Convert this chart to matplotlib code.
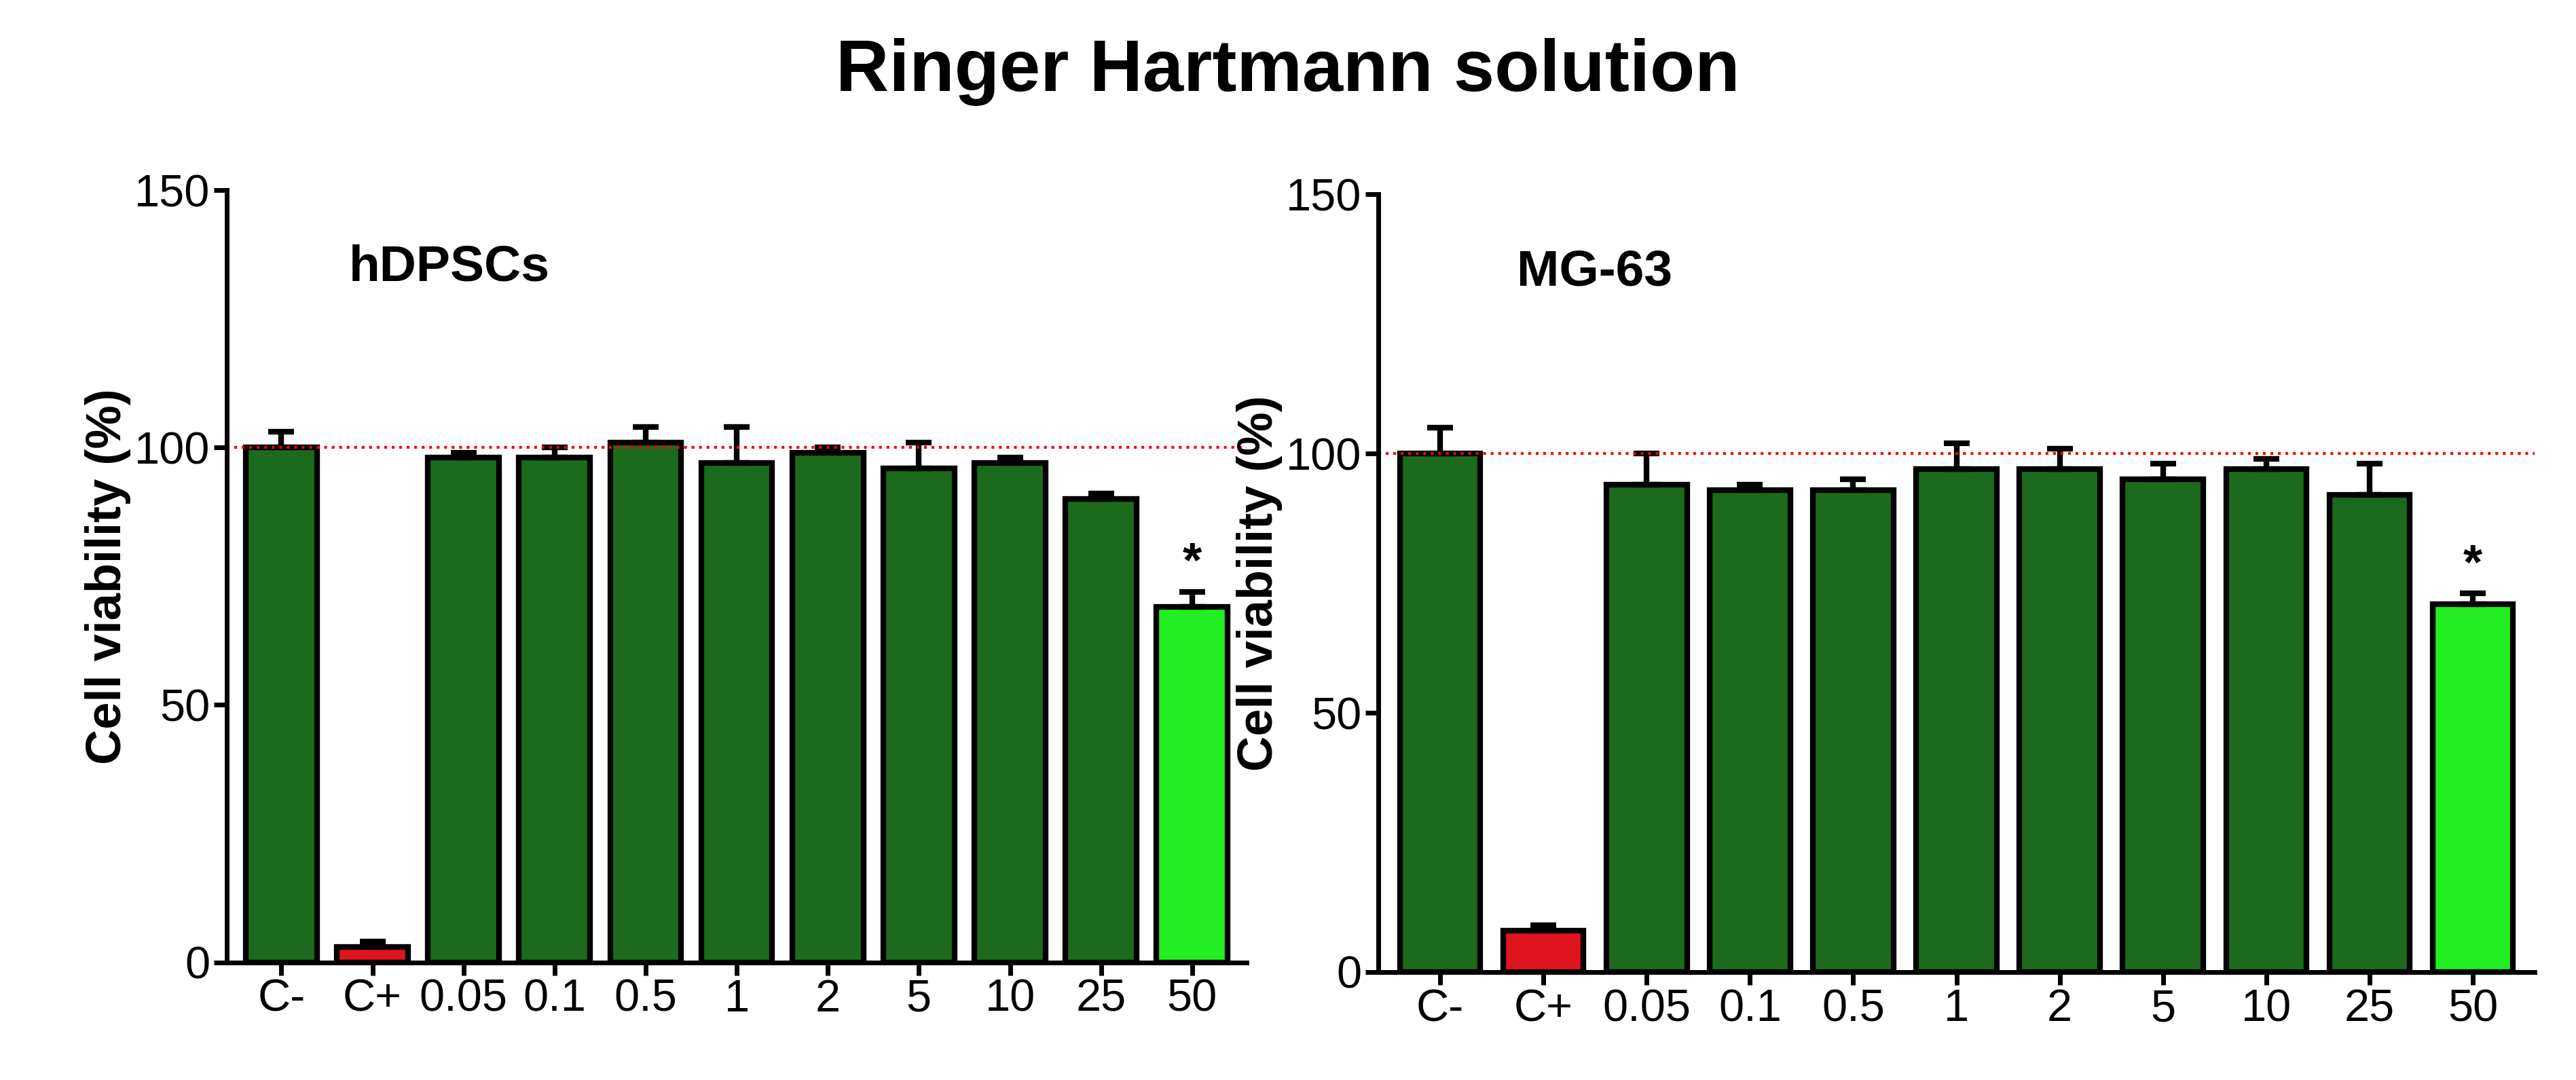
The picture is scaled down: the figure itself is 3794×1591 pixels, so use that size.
import matplotlib.pyplot as plt
import numpy as np

plt.rcParams["font.family"] = ["Liberation Sans", "DejaVu Sans"]

categories = ["C-", "C+", "0.05", "0.1", "0.5", "1", "2", "5", "10", "25", "50"]
hdpsc_mean = [100, 3, 98, 98, 101, 97, 99, 96, 97, 90, 69]
hdpsc_err = [3, 1, 1, 2, 3, 7, 1, 5, 1, 1, 3]
mg63_mean = [100, 8, 94, 93, 93, 97, 97, 95, 97, 92, 71]
mg63_err = [5, 1, 6, 1, 2, 5, 4, 3, 2, 6, 2]

colors = ["#1c6b1c", "#e0141e"] + ["#1c6b1c"] * 8 + ["#22ee22"]


def panel(ax, means, errs, label):
    x = np.arange(len(categories))
    ax.bar(x, means, width=0.78, color=colors, edgecolor="black", linewidth=6)
    ax.errorbar(x, means, yerr=[np.zeros(len(errs)), errs], fmt="none",
                ecolor="black", elinewidth=6, capsize=14, capthick=6)
    ax.axhline(100, color="red", linestyle=":", linewidth=3)
    ax.text(x[-1], means[-1] + errs[-1] + 1, "*", ha="center", va="bottom",
            fontsize=52, fontweight="bold")
    ax.set_ylim(0, 150)
    ax.set_xlim(-0.6, len(categories) - 0.4)
    ax.set_yticks([0, 50, 100, 150])
    ax.set_xticks(x)
    ax.set_xticklabels(categories)
    ax.tick_params(labelsize=48, width=5, length=14)
    ax.spines["top"].set_visible(False)
    ax.spines["right"].set_visible(False)
    ax.spines["left"].set_linewidth(5)
    ax.spines["bottom"].set_linewidth(5)
    ax.set_ylabel("Cell viability (%)", fontsize=52, fontweight="bold")
    ax.text(0.12, 0.93, label, transform=ax.transAxes, fontsize=54,
            fontweight="bold", va="top")


fig = plt.figure(figsize=(37.94, 15.91), dpi=100)
ax1 = fig.add_axes([0.088, 0.109, 0.396, 0.715])
ax2 = fig.add_axes([0.535, 0.100, 0.449, 0.720])
panel(ax1, hdpsc_mean, hdpsc_err, "hDPSCs")
panel(ax2, mg63_mean, mg63_err, "MG-63")
fig.suptitle("Ringer Hartmann solution", fontsize=78, fontweight="bold", y=0.965)
fig.savefig("out.png", dpi=100)
